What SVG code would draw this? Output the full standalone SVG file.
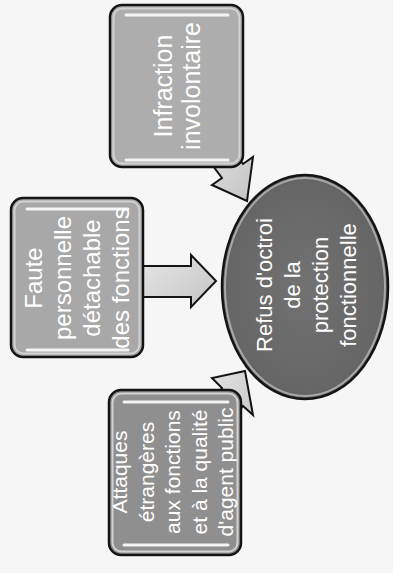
<svg xmlns="http://www.w3.org/2000/svg" width="393" height="573" viewBox="0 0 393 573">
<style>
.box{stroke:#141414;stroke-width:2.5}
.rim{fill:none;stroke:#d2d2d2;stroke-width:2}
.hl{stroke:#f4f4f4;stroke-width:3;stroke-linecap:round}
.arr{fill:url(#ag);stroke:#141414;stroke-width:2;stroke-linejoin:miter}
.t{font-family:"Liberation Sans",Arial,sans-serif;fill:#ffffff;text-anchor:middle}
</style>
<defs>
<linearGradient id="ag" x1="0" y1="0" x2="1" y2="1">
<stop offset="0" stop-color="#e6e6e6"/>
<stop offset="1" stop-color="#c4c4c4"/>
</linearGradient>
<radialGradient id="eg" cx="0.5" cy="0.5" r="0.55">
<stop offset="0" stop-color="#727272"/>
<stop offset="0.85" stop-color="#666666"/>
<stop offset="1" stop-color="#555555"/>
</radialGradient>
</defs>
<rect x="0" y="0" width="393" height="573" fill="#f6f6f6"/>
<g id="connectors">
<polygon class="arr" points="143,266 191,266 191,255 216,281 191,307 191,297 143,297"/>
<polygon class="arr" points="219,132 243,164 253,157 247,201 212,185 222,178 198,146"/>
<polygon class="arr" points="198,420 222,388 212,378 245,371 253,415 243,406 219,438"/>
</g>
<g id="n1">
<rect class="box" x="110" y="5" width="133" height="162" rx="12" fill="#adadad"/>
<rect class="rim" x="113.5" y="8.5" width="126" height="155" rx="9"/>
<line class="hl" x1="126" y1="15" x2="228" y2="15"/>
<line class="hl" x1="126" y1="160" x2="228" y2="160"/>
<g transform="translate(176,86) rotate(-90)">
<text class="t" font-size="25" x="0" y="-4">Infraction</text>
<text class="t" font-size="25" x="0" y="24">involontaire</text>
</g>
</g>
<g id="n2">
<rect class="box" x="11" y="198" width="132" height="159" rx="12" fill="#a8a8a8"/>
<rect class="rim" x="14.5" y="201.5" width="125" height="152" rx="9"/>
<line class="hl" x1="27" y1="209" x2="128" y2="209"/>
<line class="hl" x1="27" y1="350" x2="128" y2="350"/>
<g transform="translate(0,278) rotate(-90)">
<text class="t" font-size="24" x="0" y="42">Faute</text>
<text class="t" font-size="24" x="0" y="71">personnelle</text>
<text class="t" font-size="24" x="0" y="100">détachable</text>
<text class="t" font-size="24" x="0" y="129">des fonctions</text>
</g>
</g>
<g id="n3">
<rect class="box" x="109" y="390" width="132" height="165" rx="12" fill="#8f8f8f"/>
<rect class="rim" x="112.5" y="393.5" width="125" height="158" rx="9"/>
<line class="hl" x1="124" y1="402" x2="228" y2="402"/>
<line class="hl" x1="124" y1="545" x2="228" y2="545"/>
<g transform="translate(0,472) rotate(-90)">
<text class="t" font-size="21" x="0" y="127">Attaques</text>
<text class="t" font-size="21" x="0" y="153.5">étrangères</text>
<text class="t" font-size="21" x="0" y="180">aux fonctions</text>
<text class="t" font-size="21" x="0" y="206.5">et à la qualité</text>
<text class="t" font-size="21" x="0" y="233">d'agent public</text>
</g>
</g>
<g id="n4">
<ellipse cx="305" cy="287" rx="83" ry="112" fill="url(#eg)" stroke="#141414" stroke-width="2.5"/>
<ellipse cx="305" cy="287" rx="80" ry="109" fill="none" stroke="#a8a8a8" stroke-width="2"/>
<g transform="translate(0,285) rotate(-90)">
<text class="t" font-size="22" x="0" y="272">Refus d'octroi</text>
<text class="t" font-size="22" x="0" y="300">de la</text>
<text class="t" font-size="22" x="0" y="328">protection</text>
<text class="t" font-size="22" x="0" y="356">fonctionnelle</text>
</g>
</g>
</svg>
